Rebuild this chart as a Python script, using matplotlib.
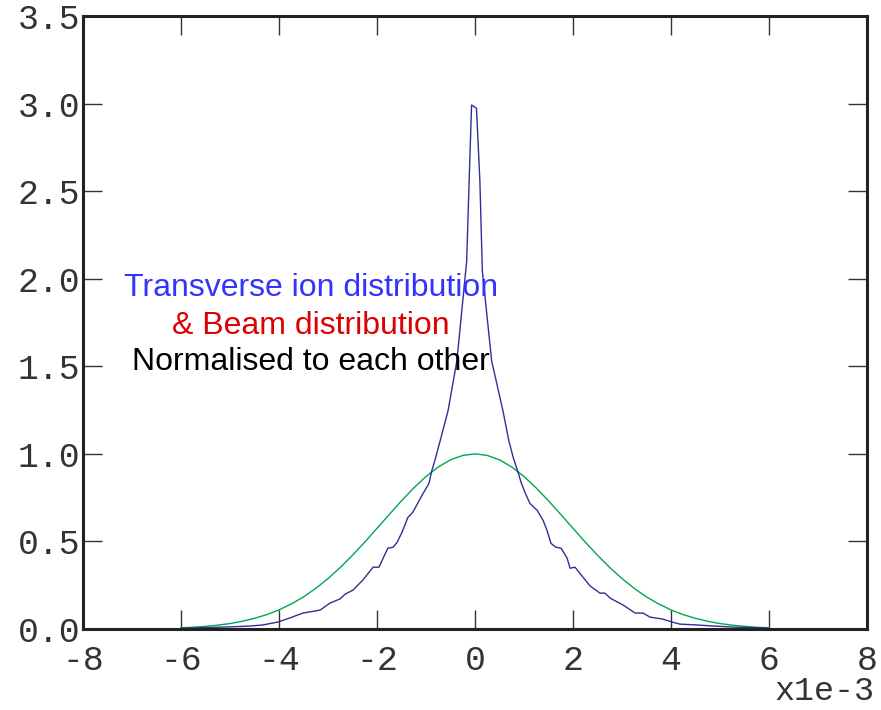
import matplotlib
matplotlib.use("Agg")
import matplotlib.pyplot as plt

# beam (green) - gaussian-like
beam_x = [-6.0, -5.75, -5.5, -5.25, -5.0, -4.75, -4.5, -4.25, -4.0, -3.75, -3.5, -3.25,
          -3.0, -2.75, -2.5, -2.25, -2.0, -1.75, -1.5, -1.25, -1.0, -0.75, -0.5, -0.25,
          0.0, 0.25, 0.5, 0.75, 1.0, 1.25, 1.5, 1.75, 2.0, 2.25, 2.5, 2.75, 3.0, 3.25,
          3.5, 3.75, 4.0, 4.25, 4.5, 4.75, 5.0, 5.25, 5.5, 5.75, 6.0]
beam_y = [0.007, 0.010, 0.015, 0.022, 0.031, 0.044, 0.061, 0.082, 0.109, 0.143, 0.183, 0.232,
          0.288, 0.351, 0.421, 0.496, 0.575, 0.654, 0.732, 0.805, 0.871, 0.925, 0.966, 0.991,
          1.0, 0.991, 0.966, 0.925, 0.871, 0.805, 0.732, 0.654, 0.575, 0.496, 0.421, 0.351,
          0.288, 0.232, 0.183, 0.143, 0.109, 0.082, 0.061, 0.044, 0.031, 0.022, 0.015, 0.010,
          0.007]

# ions (blue) - sharp cusp
ion_x = [-6.0, -5.5, -5.0, -4.59, -4.33, -4.02, -3.78, -3.51, -3.16, -2.96, -2.76, -2.65,
         -2.49, -2.29, -2.08, -1.96, -1.78, -1.67, -1.59, -1.49, -1.37, -1.27, -1.06, -0.94,
         -0.88, -0.82, -0.71, -0.55, -0.37, -0.17, -0.12, -0.07,
         0.03, 0.10, 0.15, 0.34, 0.57, 0.69, 0.78, 0.88, 0.94, 1.02, 1.12, 1.27, 1.39, 1.47,
         1.55, 1.65, 1.76, 1.88, 1.94, 2.04, 2.35, 2.55, 2.65, 2.76, 3.02, 3.27, 3.43, 3.57,
         3.82, 4.02, 4.18, 4.53, 4.86, 5.27, 6.0]
ion_y = [0.004, 0.008, 0.012, 0.017, 0.023, 0.040, 0.063, 0.091, 0.108, 0.148, 0.171, 0.199,
         0.222, 0.279, 0.353, 0.353, 0.461, 0.467, 0.495, 0.552, 0.637, 0.666, 0.774, 0.831,
         0.905, 0.962, 1.076, 1.246, 1.531, 2.100, 2.555, 2.992,
         2.973, 2.555, 2.043, 1.531, 1.246, 1.076, 0.979, 0.894, 0.837, 0.780, 0.717, 0.677,
         0.620, 0.563, 0.489, 0.467, 0.461, 0.404, 0.347, 0.353, 0.245, 0.205, 0.205, 0.176,
         0.137, 0.091, 0.091, 0.068, 0.057, 0.040, 0.028, 0.023, 0.017, 0.011, 0.005]

xticks = [-8, -6, -4, -2, 0, 2, 4, 6, 8]
yticks = [0.0, 0.5, 1.0, 1.5, 2.0, 2.5, 3.0, 3.5]

fig = plt.figure(figsize=(8.81, 7.10), dpi=100)
ax = fig.add_axes([83/881, 81/710, 784/881, 613/710])

ax.plot(beam_x, beam_y, color="#00a651", lw=1.0)
ax.plot(ion_x, ion_y, color="#2e3192", lw=1.0)

ax.set_xlim(-8, 8)
ax.set_ylim(0, 3.5)
ax.set_xticks(xticks)
ax.set_yticks(yticks)
ax.set_xticklabels([str(t) for t in xticks])
ax.set_yticklabels(["%.1f" % t for t in yticks])

for s in ax.spines.values():
    s.set_linewidth(2.2)
    s.set_color("#222222")
ax.tick_params(direction="in", length=14, width=1.0, color="#333333",
               top=True, right=True, labelsize=25, labelcolor="#333333")
ax.tick_params(axis="x", pad=11)
ax.tick_params(axis="y", pad=2)
for lab in ax.get_xticklabels() + ax.get_yticklabels():
    lab.set_family("Liberation Mono")

ax.text(1.009, -0.102, "x1e-3", transform=ax.transAxes, ha="right", va="center",
        fontsize=24, family="Liberation Mono", color="#333333")

tfont = dict(fontsize=23, family="Liberation Sans", ha="center", va="center",
             transform=ax.transAxes)
ax.text(0.291, 0.556, "Transverse ion distribution", color="#3333ff", **tfont)
ax.text(0.291, 0.494, "& Beam distribution", color="#dd0000", **tfont)
ax.text(0.291, 0.435, "Normalised to each other", color="black", **tfont)

fig.savefig("out.png", dpi=100)
